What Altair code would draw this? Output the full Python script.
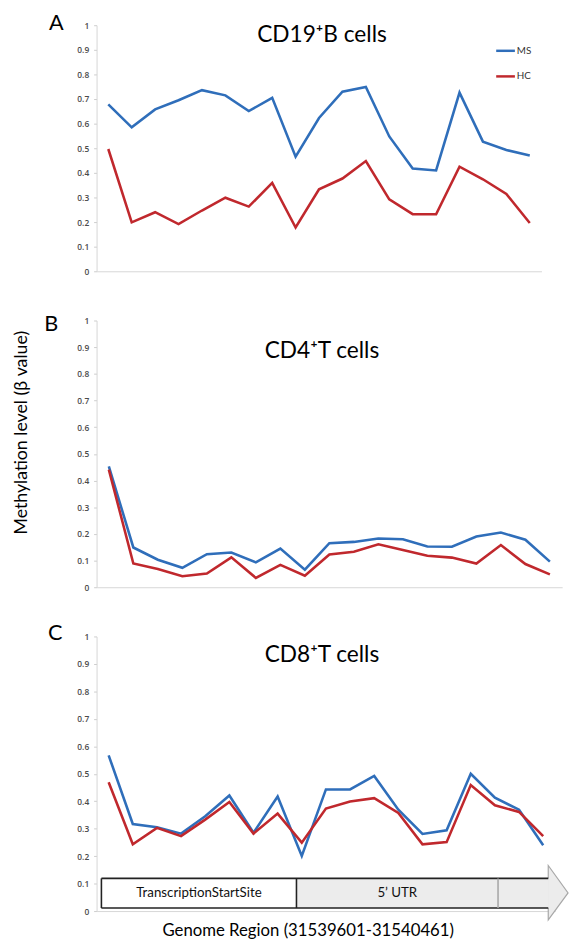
import altair as alt
import pandas as pd

# ---------------- data ----------------
positions = [1, 2, 3, 4, 5, 6, 7, 8, 9, 10, 11, 12, 13, 14, 15, 16, 17, 18, 19]
groups = ["MS", "HC"]
group_colors = ["#2f6eba", "#c0282d"]

cd19_ms = [0.678, 0.585, 0.658, 0.695, 0.736, 0.715, 0.651, 0.705, 0.466, 0.623,
           0.730, 0.749, 0.548, 0.418, 0.410, 0.726, 0.527, 0.493, 0.471]
cd19_hc = [0.497, 0.199, 0.240, 0.192, 0.247, 0.299, 0.263, 0.359, 0.178, 0.333,
           0.377, 0.448, 0.292, 0.232, 0.232, 0.425, 0.374, 0.314, 0.196]

cd4_ms = [0.453, 0.149, 0.103, 0.073, 0.124, 0.130, 0.093, 0.145, 0.066, 0.165,
          0.170, 0.183, 0.180, 0.153, 0.152, 0.190, 0.205, 0.178, 0.096]
cd4_hc = [0.441, 0.089, 0.068, 0.041, 0.051, 0.112, 0.035, 0.084, 0.043, 0.123,
          0.133, 0.161, 0.140, 0.118, 0.111, 0.089, 0.158, 0.087, 0.048]

cd8_ms = [0.567, 0.317, 0.305, 0.282, 0.345, 0.421, 0.285, 0.417, 0.201, 0.443,
          0.443, 0.492, 0.369, 0.281, 0.294, 0.500, 0.413, 0.369, 0.240]
cd8_hc = [0.469, 0.243, 0.303, 0.273, 0.333, 0.397, 0.282, 0.355, 0.249, 0.373,
          0.399, 0.411, 0.357, 0.243, 0.251, 0.459, 0.385, 0.361, 0.273]

panel_titles = ["CD19\u207aB cells", "CD4\u207aT cells", "CD8\u207aT cells"]
panel_letters = ["A", "B", "C"]
y_ticks = [0, 0.1, 0.2, 0.3, 0.4, 0.5, 0.6, 0.7, 0.8, 0.9, 1]
y_title = "Methylation level (\u03b2 value)"
x_title = "Genome Region (31539601-31540461)"

# gene-region annotation (in probe-index units)
region_labels = ["TranscriptionStartSite", "5\u2019 UTR", ""]
region_start = [0.70, 8.78, 17.13]
region_end = [8.78, 17.13, 19.21]
region_fill = ["#ffffff", "#ececec", "#ececec"]
region_edge = ["#222222", "#222222", "#a8a8a8"]
region_label_shift = [7, 20, 0]
box_low, box_high = 0.011, 0.119
head_x = [19.21, 20.03]
head_top = [0.166, 0.066]
head_bottom = [-0.032, 0.066]

FONT = "Lato"
X_DOMAIN = [0.5, 19.5]
xs = alt.Scale(domain=X_DOMAIN, nice=False, zero=False)
ys = alt.Scale(domain=[0, 1], nice=False)
x_axis = alt.Axis(labels=False, ticks=False, grid=False, domainColor="#d6d6d6", domainWidth=1)
y_axis = alt.Axis(values=y_ticks, format="~g", grid=False, labelFont="Open Sans",
                  labelFontSize=8.5, labelFontWeight=600, labelColor="#4a4a4a", tickSize=3,
                  tickColor="#cccccc", domainColor="#d6d6d6", labelPadding=5,
                  labelOverlap=False)


def X(field):
    return alt.X(field, scale=xs, axis=x_axis, title=None)


def Y(field):
    return alt.Y(field, scale=ys, axis=y_axis, title=None)


def series_df(ms, hc):
    return pd.DataFrame({
        "position": positions * 2,
        "value": ms + hc,
        "group": ["MS"] * len(ms) + ["HC"] * len(hc),
    })


def line_layer(ms, hc):
    return alt.Chart(series_df(ms, hc)).mark_line(strokeWidth=2.6).encode(
        x=X("position:Q"), y=Y("value:Q"),
        color=alt.Color("group:N", scale=alt.Scale(domain=groups, range=group_colors), legend=None),
        detail="group:N",
    )


def text_layer(txt, x, y, size, color="#000000", angle=0):
    return alt.Chart(pd.DataFrame({"t": [txt]})).mark_text(
        font=FONT, fontSize=size, color=color, angle=angle, align="center", baseline="middle"
    ).encode(text="t:N", x=alt.value(x), y=alt.value(y))


# ---------------- panel A ----------------
wA, hA = 452, 250
legend_df = pd.DataFrame({"group": groups, "ly": [26, 52]})
legend_lines = alt.Chart(legend_df).mark_rule(strokeWidth=2.5).encode(
    x=alt.value(406), x2=alt.value(425), y=alt.Y("ly:Q", scale=None, axis=None),
    color=alt.Color("group:N", scale=alt.Scale(domain=groups, range=group_colors), legend=None),
)
legend_text = alt.Chart(legend_df).mark_text(
    font=FONT, fontSize=10, color="#333333", align="left", baseline="middle"
).encode(x=alt.value(427), y=alt.Y("ly:Q", scale=None, axis=None), text="group:N")

panelA = alt.layer(
    line_layer(cd19_ms, cd19_hc),
    text_layer(panel_titles[0], 229, 10, 23),
    text_layer(panel_letters[0], -41, -2, 22),
    legend_lines, legend_text,
).properties(width=wA, height=hA)

# ---------------- panel B ----------------
wB, hB = 473, 271
panelB = alt.layer(
    line_layer(cd4_ms, cd4_hc),
    text_layer(panel_titles[1], 229, 31, 23),
    text_layer(panel_letters[1], -46, 4, 22),
    text_layer(y_title, -76, 114, 18, angle=270),
).properties(width=wB, height=hB)

# ---------------- panel C ----------------
wC, hC = 466, 279

regions = pd.DataFrame({
    "label": region_labels, "x0": region_start, "x1": region_end,
    "fill": region_fill, "edge": region_edge,
    "mid": [(a + b) / 2 for a, b in zip(region_start, region_end)],
    "low": [box_low] * 3, "high": [box_high] * 3,
    "shift": region_label_shift,
})
region_rects = alt.Chart(regions).mark_rect(strokeWidth=0).encode(
    x=X("x0:Q"), x2="x1:Q", y=Y("low:Q"), y2="high:Q",
    fill=alt.Fill("fill:N", scale=None),
)
head = alt.Chart(pd.DataFrame({"x": head_x, "top": head_top, "bottom": head_bottom})).mark_area(
    fill="#ececec", stroke="#a8a8a8", strokeWidth=1.2
).encode(x=X("x:Q"), y=Y("top:Q"), y2="bottom:Q")
body_cover = alt.Chart(pd.DataFrame({"x0": [region_start[2]], "x1": [region_end[2] + 0.03],
                                     "low": [box_low], "high": [box_high]})).mark_rect(
    fill="#ececec", strokeWidth=0
).encode(x=X("x0:Q"), x2="x1:Q", y=Y("low:Q"), y2="high:Q")
edges = alt.Chart(pd.DataFrame({"x0": [region_start[0]] * 2, "x1": [region_end[2]] * 2,
                                "yv": [box_low, box_high]})).mark_rule(
    color="#222222", strokeWidth=1.6
).encode(x=X("x0:Q"), x2="x1:Q", y=Y("yv:Q"))
dividers = alt.Chart(regions).mark_rule(strokeWidth=1.6).encode(
    x=X("x0:Q"), y=Y("low:Q"), y2="high:Q",
    color=alt.Color("edge:N", scale=None),
)
region_text = alt.Chart(regions).mark_text(
    font=FONT, fontSize=13.5, color="#111111", baseline="middle", align="center"
).encode(
    x=X("mid:Q"), y=alt.value(261), text="label:N",
    xOffset=alt.XOffset("shift:Q", scale=None),
)

panelC = alt.layer(
    line_layer(cd8_ms, cd8_hc),
    region_rects, head, body_cover, edges, dividers, region_text,
    text_layer(panel_titles[2], 229, 19, 23),
    text_layer(panel_letters[2], -42, -3, 22),
    text_layer(x_title, 215, 299, 17),
).properties(width=wC, height=hC)

chart = alt.vconcat(panelA, panelB, panelC, spacing=50, bounds="flush").properties(
    padding={"left": 5, "top": -3, "right": 0, "bottom": 0}
).configure_view(stroke=None)

chart.save("out.html", embed_options={"renderer": "svg", "actions": False})
